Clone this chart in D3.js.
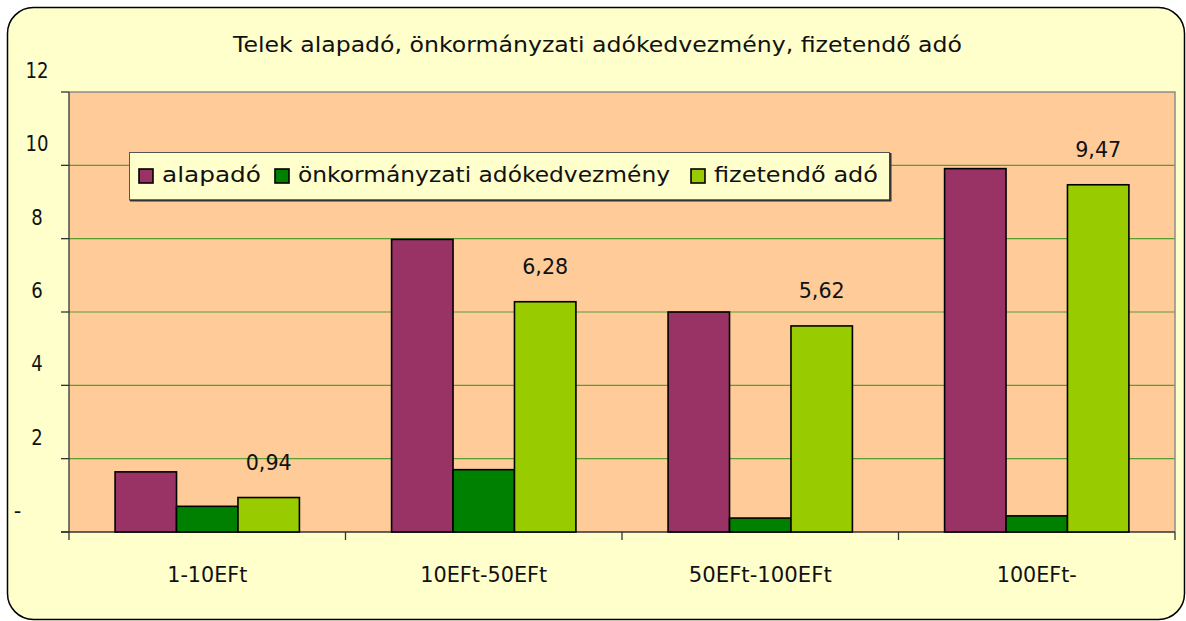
<!DOCTYPE html>
<html>
<head>
<meta charset="utf-8">
<script src="https://cdn.jsdelivr.net/npm/d3@7"></script>
<style>
  body { margin: 0; background: #fff; }
  svg text { font-family: "Century Gothic", "DejaVu Sans", sans-serif; fill: #111; }
</style>
</head>
<body>
<div id="chart"></div>
<script>
// adatok
const title = "Telek alapadó, önkormányzati adókedvezmény, fizetendő adó";
const categories = ["1-10EFt", "10EFt-50EFt", "50EFt-100EFt", "100EFt-"];
const seriesNames = ["alapadó", "önkormányzati adókedvezmény", "fizetendő adó"];
const alapado = [1.64, 7.98, 6.00, 9.91];
const kedvezmeny = [0.70, 1.70, 0.38, 0.44];
const fizetendo = [0.94, 6.28, 5.62, 9.47];
const yTicks = [0, 2, 4, 6, 8, 10, 12];
const yTickLabels = ["-", "2", "4", "6", "8", "10", "12"];

const COLORS = ["#993366", "#008000", "#99CC00"];
const W = 1186, H = 621;
const plot = { left: 69, right: 1175, top: 92, bottom: 532 };

// a Century Gothic szélességéhez igazítás (px)
const textWidth = {
    [title]: 729,
    "alapadó": 99, "önkormányzati adókedvezmény": 372, "fizetendő adó": 164,
    "1-10EFt": 80, "10EFt-50EFt": 127, "50EFt-100EFt": 143, "100EFt-": 80
};
const fit = (sel, w) => {
    if (w) sel.attr("textLength", w).attr("lengthAdjust", "spacingAndGlyphs");
    return sel;
};

const svg = d3.select("#chart").append("svg")
    .attr("width", W).attr("height", H);

// keret
svg.append("rect")
    .attr("x", 7.5).attr("y", 7.5).attr("width", 1177).attr("height", 612)
    .attr("rx", 26).attr("ry", 26)
    .attr("fill", "#FFFFCC").attr("stroke", "#000").attr("stroke-width", 1.5);

svg.append("text")
    .attr("x", 233).attr("y", 52)
    .style("font-size", "21px")
    .text(title)
    .call(fit, textWidth[title]);

const x0 = d3.scaleBand().domain(categories).range([plot.left, plot.right]).paddingInner(0).paddingOuter(0);
const x1 = d3.scaleBand().domain(seriesNames).range([0, x0.bandwidth()]).paddingInner(0).paddingOuter(0.75);
const y = d3.scaleLinear().domain([0, 12]).range([plot.bottom, plot.top]);

// plot terület
svg.append("rect")
    .attr("x", plot.left).attr("y", plot.top)
    .attr("width", plot.right - plot.left).attr("height", plot.bottom - plot.top)
    .attr("fill", "#FFCC99");

// rácsvonalak
svg.append("g").selectAll("line")
    .data(yTicks.filter(d => d > 0 && d < 12))
    .join("line")
    .attr("x1", plot.left).attr("x2", plot.right)
    .attr("y1", d => y(d)).attr("y2", d => y(d))
    .attr("stroke", "#5A9E32").attr("stroke-width", 1.2);

// plot keret felső, jobb
svg.append("path")
    .attr("d", `M${plot.left},${plot.top}H${plot.right}V${plot.bottom}`)
    .attr("fill", "none").attr("stroke", "#8c8c8c").attr("stroke-width", 1.5);

// y tengely
const yAxis = svg.append("g");
yAxis.append("line")
    .attr("x1", plot.left).attr("x2", plot.left)
    .attr("y1", plot.top).attr("y2", plot.bottom)
    .attr("stroke", "#333").attr("stroke-width", 1.3);
yAxis.selectAll("line.tick")
    .data(yTicks)
    .join("line").attr("class", "tick")
    .attr("x1", plot.left - 8).attr("x2", plot.left)
    .attr("y1", d => y(d)).attr("y2", d => y(d))
    .attr("stroke", "#333").attr("stroke-width", 1.3);
yAxis.selectAll("text")
    .data(yTicks)
    .join("text")
    .attr("x", d => d === 0 ? 17.5 : 37)
    .attr("y", d => y(d) - 14)
    .attr("text-anchor", "middle")
    .style("font-size", "21px")
    .text((d, i) => yTickLabels[i])
    .each(function (d, i) {
        const n = yTickLabels[i].length;
        if (d > 0) fit(d3.select(this), n * 11.5);
    });

// x tengely
const xAxis = svg.append("g");
xAxis.append("line")
    .attr("x1", plot.left - 8).attr("x2", plot.right)
    .attr("y1", plot.bottom).attr("y2", plot.bottom)
    .attr("stroke", "#333").attr("stroke-width", 1.5);
xAxis.selectAll("line.tick")
    .data(d3.range(categories.length + 1))
    .join("line").attr("class", "tick")
    .attr("x1", i => plot.left + i * x0.bandwidth()).attr("x2", i => plot.left + i * x0.bandwidth())
    .attr("y1", plot.bottom).attr("y2", plot.bottom + 8)
    .attr("stroke", "#333").attr("stroke-width", 1.3);
xAxis.selectAll("text")
    .data(categories)
    .join("text")
    .attr("x", d => x0(d) + x0.bandwidth() / 2 - textWidth[d] / 2)
    .attr("y", 582)
    .style("font-size", "21px")
    .text(d => d)
    .each(function (d) { fit(d3.select(this), textWidth[d]); });

// oszlopok
const seriesValues = [alapado, kedvezmeny, fizetendo];
const groups = svg.append("g").selectAll("g")
    .data(categories)
    .join("g")
    .attr("transform", d => `translate(${x0(d)},0)`);

groups.selectAll("rect")
    .data((c, ci) => seriesNames.map((s, si) => ({ s, si, v: seriesValues[si][ci] })))
    .join("rect")
    .attr("x", d => x1(d.s))
    .attr("y", d => y(d.v))
    .attr("width", x1.bandwidth())
    .attr("height", d => y(0) - y(d.v))
    .attr("fill", d => COLORS[d.si])
    .attr("stroke", "#000").attr("stroke-width", 1.6);

// adatfeliratok (fizetendő adó)
groups.append("text")
    .attr("x", x1(seriesNames[2]) + x1.bandwidth() / 2 - 23)
    .attr("y", (c, ci) => y(fizetendo[ci]) - 28)
    .style("font-size", "21px")
    .text((c, ci) => fizetendo[ci].toFixed(2).replace(".", ","))
    .call(fit, 46);

// jelmagyarázat
const legend = svg.append("g");
legend.append("rect")
    .attr("x", 129.5).attr("y", 152.5).attr("width", 760).attr("height", 47.5)
    .attr("fill", "#FFFFCC").attr("stroke", "#555").attr("stroke-width", 1);
legend.append("path")
    .attr("d", "M130,200.5H890.5V153")
    .attr("fill", "none").attr("stroke", "#333").attr("stroke-width", 2);

const legendX = [139, 275, 691];
seriesNames.forEach((s, i) => {
    legend.append("rect")
        .attr("x", legendX[i]).attr("y", 169).attr("width", 14).attr("height", 14)
        .attr("fill", COLORS[i]).attr("stroke", "#000").attr("stroke-width", 1.6);
    legend.append("text")
        .attr("x", legendX[i] + 23).attr("y", 182)
        .style("font-size", "21px")
        .text(s)
        .call(fit, textWidth[s]);
});
</script>
</body>
</html>
